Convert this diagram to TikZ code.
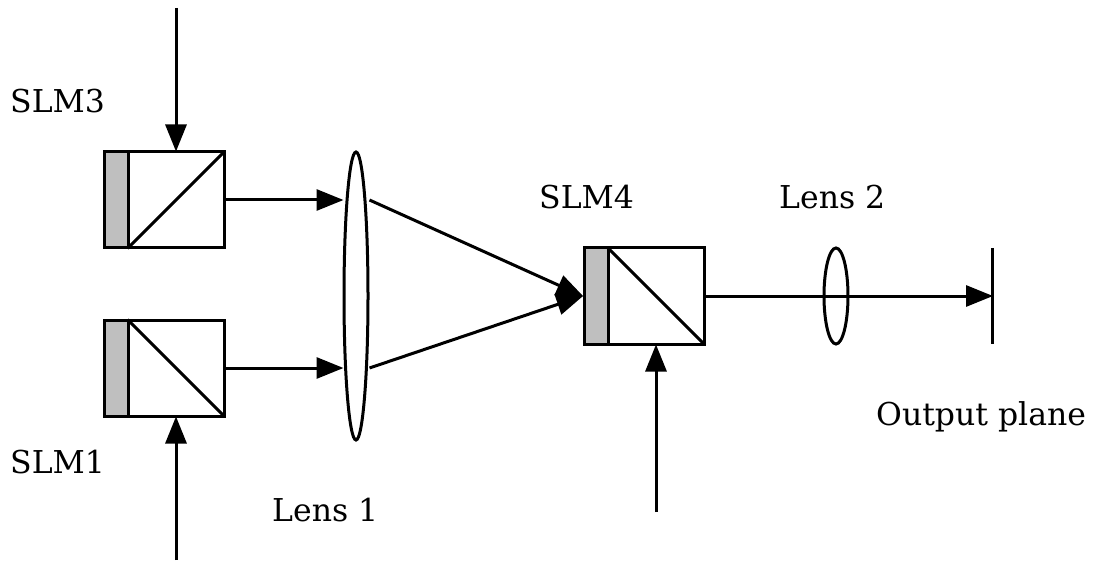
\documentclass[tikz,border=0pt]{standalone}
\usepackage{fontspec}
\setmainfont{DejaVu Serif}
\usetikzlibrary{arrows.meta,shapes.geometric}
\definecolor{slmgray}{RGB}{191,191,191}
\tikzset{
 lbl/.style={inner sep=0pt,font=\fontsize{31.5}{36}\selectfont,anchor=base west},
 cube/.style={draw,line width=3pt,inner sep=0pt,minimum width=96pt,minimum height=96pt},
 slm/.style={draw,fill=slmgray,line width=3pt,inner sep=0pt,minimum width=24pt,minimum height=96pt},
 ar/.style={line width=3pt,-{Triangle[length=27pt,width=21pt]},shorten >=-1pt},
 ln/.style={line width=3pt},
 diag/.style={line width=3pt,shorten >=1.5pt,shorten <=1.5pt},
 lens/.style={draw,ellipse,line width=3pt,inner sep=0pt,minimum width=24pt}
}
\begin{document}
\begin{tikzpicture}[x=1pt,y=-1pt]
\useasboundingbox (0,0) rectangle (1098,588);
% beam splitters with SLMs
\node[cube] (c3) at (176,200) {};
\node[slm]  (g3) at (116,200) {};
\node[cube] (c1) at (176,368) {};
\node[slm]  (g1) at (116,368) {};
\node[cube] (c4) at (656,296) {};
\node[slm]  (g4) at (596,296) {};
\draw[diag] (c3.south west) -- (c3.north east);
\draw[diag] (c1.north west) -- (c1.south east);
\draw[diag] (c4.north west) -- (c4.south east);
% lenses
\node[lens,minimum height=288pt] (l1) at (356,296) {};
\node[lens,minimum height=96pt]  (l2) at (836,296) {};
% output plane
\coordinate (ot) at (992,248);
\coordinate (ob) at (992,344);
\coordinate (oc) at (992,296);
\draw[ln] (ot) -- (ob);
% free ends
\coordinate (s3) at (176,8);
\coordinate (s1) at (176,560);
\coordinate (s4) at (656,512);
% connectors
\draw[ar] (s3) -- (c3.north);
\draw[ar] (s1) -- (c1.south);
\draw[ar] (s4) -- (c4.south);
\draw[ar] (c3.east) -- (c3.east -| l1.west);
\draw[ar] (c1.east) -- (c1.east -| l1.west);
\draw[ar] (c3.east -| l1.east) -- (g4.west);
\draw[ar] (c1.east -| l1.east) -- (g4.west);
\draw[ar] (c4.east) -- (oc);
% labels
\node[lbl] (t3) at (10,113) {SLM3};
\node[lbl] (t1) at (10,473) {SLM1};
\node[lbl] (t4) at (539,209) {SLM4};
\node[lbl] (tl2) at (779,209) {Lens 2};
\node[lbl] (tl1) at (272,521) {Lens 1};
\node[lbl] (top) at (876,425) {Output plane};
\end{tikzpicture}
\end{document}
